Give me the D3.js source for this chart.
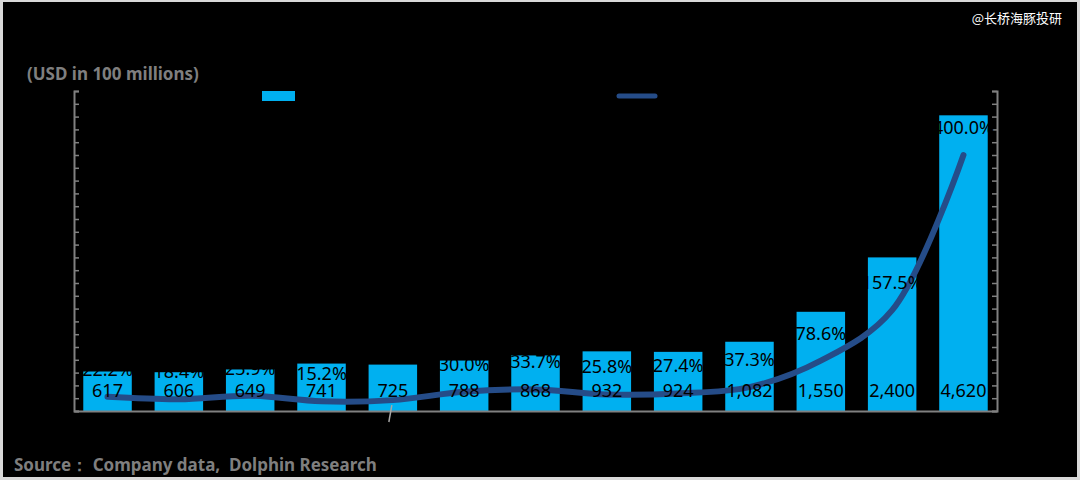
<!DOCTYPE html>
<html><head><meta charset="utf-8">
<script src="https://cdn.jsdelivr.net/npm/d3@7"></script>
<style>html,body{margin:0;padding:0;background:#d9d9d9;}svg{display:block;}</style>
</head><body>
<svg id="chart" width="1080" height="480"></svg>
<script>
const categories = ["2012","2013","2014","2015","2016","2017","2018","2019","2020","2021","2022","2023","2024"];
const barValues = [617, 606, 649, 741, 725, 788, 868, 932, 924, 1082, 1550, 2400, 4620];
const lineValues = [22.2, 18.4, 23.9, 15.2, 17.0, 30.0, 33.7, 25.8, 27.4, 37.3, 78.6, 157.5, 400.0];
const lineLabels = ["22.2%","18.4%","23.9%","15.2%",null,"30.0%","33.7%","25.8%","27.4%","37.3%","78.6%","157.5%","400.0%"];
const leftTicks = [0,1000,2000,3000,4000,5000];
const rightTicks = [0,100,200,300,400,500];
const legendNames = ["Revenue","YoY"];

const svg = d3.select("#chart");
svg.append("rect").attr("x",3).attr("y",2).attr("width",1074).attr("height",475).attr("fill","#000");

const L = 74, R = 997, T = 91, B = 411;
const x = d3.scaleBand().domain(categories).range([L, R]).paddingInner(0.32).paddingOuter(0.13);
const yL = d3.scaleLinear().domain([0, 5000]).range([B, T]);
const yR = d3.scaleLinear().domain([0, 500]).range([B, T]);
const font = "'Noto Sans', sans-serif";

// bars
svg.append("g").selectAll("rect").data(barValues).join("rect")
  .attr("x",(d,i)=>x(categories[i])).attr("y",d=>yL(d))
  .attr("width",x.bandwidth()).attr("height",d=>B-yL(d)).attr("fill","#00B0F0");

// axes
const axisColor = "#808080";
const gl = svg.append("g").attr("transform",`translate(${L},0)`)
  .call(d3.axisLeft(yL).tickValues(d3.range(0,5001,200)).tickSize(-5).tickFormat(""));
const gl2 = svg.append("g").attr("transform",`translate(${L},0)`)
  .call(d3.axisLeft(yL).tickValues(leftTicks).tickSize(0).tickPadding(6).tickFormat(d3.format(",")));
const gr = svg.append("g").attr("transform",`translate(${R},0)`)
  .call(d3.axisRight(yR).tickValues(d3.range(0,501,20)).tickSize(-5).tickFormat(""));
const gr2 = svg.append("g").attr("transform",`translate(${R},0)`)
  .call(d3.axisRight(yR).tickValues(rightTicks).tickSize(0).tickPadding(6).tickFormat(d=>d+"%"));
[gl,gr].forEach(g=>{
  g.selectAll("path").attr("stroke",axisColor).attr("stroke-width",2);
  g.selectAll("line").attr("stroke",axisColor).attr("stroke-width",1.5);
});
[gl2,gr2].forEach(g=>{
  g.select("path").remove();
  g.selectAll("text").attr("fill","#000").style("font-family",font).style("font-size","11px");
});
const gx = svg.append("g").attr("transform",`translate(0,${B})`)
  .call(d3.axisBottom(x).tickSize(0).tickPadding(12));
gx.select("path").attr("stroke",axisColor).attr("stroke-width",2);
gx.selectAll("text").attr("fill","#000").style("font-family",font).style("font-size","13px");

// line
const cx = (i)=>x(categories[i]) + x.bandwidth()/2;
const line = d3.line().x((d,i)=>cx(i)).y(d=>yR(d)).curve(d3.curveCatmullRom.alpha(0.5));
svg.append("path").datum(lineValues).attr("d",line).attr("fill","none")
  .attr("stroke","#254C88").attr("stroke-width",6).attr("stroke-linecap","round").attr("stroke-linejoin","round");

// small leader line under 5th bar
svg.append("line").attr("x1",cx(4)-1).attr("y1",yR(lineValues[4])+5).attr("x2",cx(4)-4).attr("y2",B+11)
  .attr("stroke","#a6a6a6").attr("stroke-width",1.5);

// value labels
svg.append("g").selectAll("text").data(barValues).join("text")
  .attr("x",(d,i)=>cx(i)).attr("y",B-14).attr("text-anchor","middle")
  .style("font-family",font).style("font-size","18px").attr("fill","#000")
  .text(d=>d3.format(",")(d));
svg.append("g").selectAll("text").data(lineValues).join("text")
  .attr("x",(d,i)=>cx(i)).attr("y",d=>yR(d)-21).attr("text-anchor","middle")
  .style("font-family",font).style("font-size","18px").attr("fill","#000")
  .text((d,i)=>lineLabels[i]===null?"":lineLabels[i]);

// legend
svg.append("rect").attr("x",262).attr("y",91).attr("width",33).attr("height",10).attr("fill","#00B0F0");
svg.append("text").attr("x",303).attr("y",101).attr("fill","#000").style("font-family",font).style("font-size","14px").text(legendNames[0]);
svg.append("line").attr("x1",619).attr("y1",96).attr("x2",655).attr("y2",96)
  .attr("stroke","#254C88").attr("stroke-width",5).attr("stroke-linecap","round");
svg.append("text").attr("x",665).attr("y",101).attr("fill","#000").style("font-family",font).style("font-size","14px").text(legendNames[1]);

// texts
svg.append("text").attr("x",27).attr("y",80).attr("fill","#7f7f7f")
  .style("font-family",font).style("font-size","17px").style("font-weight","bold")
  .text("(USD in 100 millions)");
svg.append("text").attr("x",14).attr("y",471).attr("fill","#7f7f7f")
  .style("font-family",font).style("font-size","17px").style("font-weight","bold")
  .style("white-space","pre").attr("xml:space","preserve")
  .text("Source： Company data,  Dolphin Research");
svg.append("text").attr("x",1062).attr("y",23).attr("text-anchor","end").attr("fill","#fff")
  .style("font-family","'Noto Sans CJK SC', sans-serif").style("font-size","13px")
  .text("@长桥海豚投研");
</script>
</body></html>
